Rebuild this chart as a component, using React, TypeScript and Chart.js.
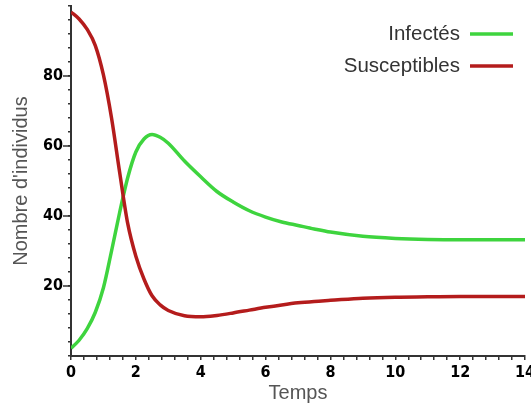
import React, { useEffect, useRef } from "react";
import { Chart, registerables } from "chart.js";

Chart.register(...registerables);

const times = [0, 0.25, 0.5, 0.75, 1, 1.25, 1.5, 1.75, 2, 2.25, 2.5, 2.75, 3, 3.5, 4, 4.5, 5, 5.5, 6, 6.5, 7, 7.5, 8, 9, 10, 11, 12, 13, 14];
const infectes = [2.2, 4.5, 7.8, 12.5, 19.5, 30, 41, 51, 58.3, 62, 63.3, 62.5, 60.8, 55.7, 51.2, 47, 44, 41.5, 39.7, 38.3, 37.3, 36.3, 35.4, 34.2, 33.6, 33.3, 33.2, 33.2, 33.2];
const susceptibles = [98.3, 96.3, 93.3, 88.7, 80.3, 68, 52.5, 37.8, 28.5, 22, 17.2, 14.6, 13, 11.5, 11.2, 11.6, 12.3, 13.1, 13.9, 14.6, 15.2, 15.6, 15.9, 16.5, 16.8, 16.9, 17, 17, 17];
const seriesLabels = ["Infectés", "Susceptibles"];
const seriesColors = ["#3ed43e", "#b41c1c"];
const xMajorStep = 2;
const yLabelValues = [20, 40, 60, 80];

const TICK_FONT = { family: '"DejaVu Sans Condensed", "Liberation Sans Narrow", sans-serif', size: 16, weight: "bold" as const };
const TEXT_FAMILY = '"Liberation Sans", Arial, sans-serif';

const legendPlugin = {
  id: "customLegend",
  afterDraw(chart: any) {
    const ctx = chart.ctx;
    ctx.save();
    ctx.font = `20.5px ${TEXT_FAMILY}`;
    ctx.textAlign = "right";
    ctx.textBaseline = "middle";
    seriesLabels.forEach((label, i) => {
      const y = 34 + 32 * i;
      ctx.fillStyle = "#333333";
      ctx.fillText(label, 460, y);
      ctx.strokeStyle = seriesColors[i];
      ctx.lineWidth = 3.5;
      ctx.beginPath();
      ctx.moveTo(470, y);
      ctx.lineTo(513, y);
      ctx.stroke();
    });
    // longer major ticks on y axis
    const ys = chart.scales.y;
    ctx.strokeStyle = "#333333";
    ctx.lineWidth = 1.5;
    yLabelValues.forEach((v) => {
      const py = ys.getPixelForValue(v);
      ctx.beginPath();
      ctx.moveTo(ys.right - 8, py);
      ctx.lineTo(ys.right, py);
      ctx.stroke();
    });
    ctx.restore();
  },
};

export default function App() {
  const ref = useRef<HTMLCanvasElement>(null);
  useEffect(() => {
    document.body.style.margin = "0";
    const chart = new Chart(ref.current!, {
      type: "line",
      data: {
        datasets: [
          {
            label: seriesLabels[0],
            data: times.map((t, i) => ({ x: t, y: infectes[i] })),
            borderColor: seriesColors[0],
            borderWidth: 3.5,
            pointRadius: 0,
            cubicInterpolationMode: "monotone",
            order: 1,
          },
          {
            label: seriesLabels[1],
            data: times.map((t, i) => ({ x: t, y: susceptibles[i] })),
            borderColor: seriesColors[1],
            borderWidth: 3.5,
            pointRadius: 0,
            cubicInterpolationMode: "monotone",
            order: 0,
          },
        ],
      },
      options: {
        animation: false,
        responsive: false,
        layout: { padding: { top: 6, right: 6, left: 9, bottom: 0 } },
        plugins: { legend: { display: false }, tooltip: { enabled: false } },
        scales: {
          x: {
            type: "linear",
            min: 0,
            max: 14,
            border: { display: true, color: "#333333", width: 2 },
            grid: { drawOnChartArea: false, drawTicks: true, tickLength: 4, color: "#333333", lineWidth: 1.5 },
            ticks: {
              stepSize: 0.4,
              autoSkip: false,
              maxRotation: 0,
              padding: 3,
              color: "#000000",
              font: TICK_FONT,
              callback: (v: any) => {
                const n = Number(v);
                return Math.abs(n / xMajorStep - Math.round(n / xMajorStep)) < 1e-6 ? String(Math.round(n)) : "";
              },
            },
            title: {
              display: true,
              text: "Temps",
              color: "#555555",
              font: { family: TEXT_FAMILY, size: 20 },
              padding: { top: 0, bottom: 0 },
            },
            afterFit: (s: any) => {
              s.height = 49;
              s.paddingLeft = 0;
              s.paddingRight = 0;
            },
          },
          y: {
            type: "linear",
            min: 0,
            max: 100,
            border: { display: true, color: "#333333", width: 2 },
            grid: { drawOnChartArea: false, drawTicks: true, tickLength: 3, color: "#333333", lineWidth: 1.5 },
            ticks: {
              stepSize: 4,
              autoSkip: false,
              padding: 5,
              color: "#000000",
              font: TICK_FONT,
              callback: (v: any) => (yLabelValues.includes(Math.round(Number(v))) && Math.abs(Number(v) - Math.round(Number(v))) < 1e-6 ? String(Math.round(Number(v))) : ""),
            },
            title: {
              display: true,
              text: "Nombre d'individus",
              color: "#555555",
              font: { family: TEXT_FAMILY, size: 20 },
              padding: { top: 0, bottom: 0 },
            },
            afterFit: (s: any) => {
              s.width = 62;
              s.paddingTop = 0;
              s.paddingBottom = 0;
            },
          },
        },
      },
      plugins: [legendPlugin],
    });
    return () => chart.destroy();
  }, []);
  return (
    <div style={{ position: "absolute", left: 0, top: 0, width: 531, height: 405 }}>
      <canvas ref={ref} width={531} height={405} />
    </div>
  );
}
